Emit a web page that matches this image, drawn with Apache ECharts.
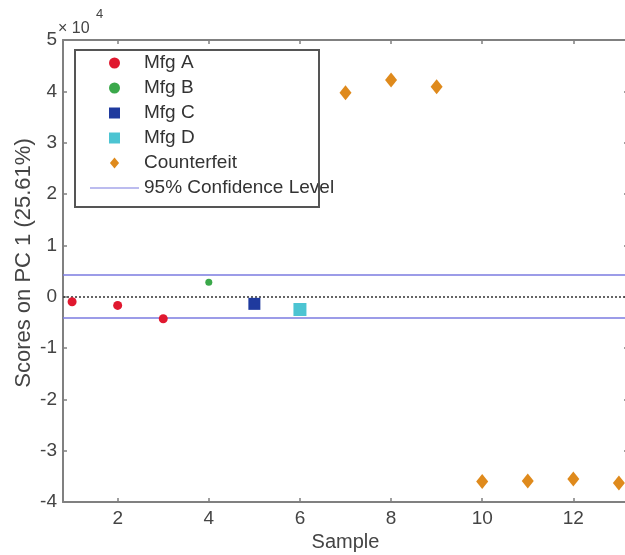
<!DOCTYPE html>
<html>
<head>
<meta charset="utf-8">
<script src="https://cdn.jsdelivr.net/npm/echarts@6/dist/echarts.min.js"></script>
<style>
  html, body { margin: 0; padding: 0; background: #fff; }
  #chart { width: 625px; height: 555px; }
</style>
</head>
<body>
<div id="chart"></div>
<script>
// values in units of 1e4
const mfgA = [[1, -0.10], [2, -0.17], [3, -0.43]]
const mfgB = [[4, 0.28]]
const mfgC = [[5, -0.14]]
const mfgD = [[6, -0.25]]
const counterfeit = [[7, 3.97], [8, 4.22], [9, 4.09], [10, -3.60], [11, -3.59], [12, -3.55], [13, -3.63]]
const confUpper = 0.42
const confLower = -0.41
const xTicks = [2, 4, 6, 8, 10, 12]

const font = 'Liberation Sans, Arial, sans-serif'
const textColor = '#444'
const axisColor = '#808080'
const confColor = '#7b7be0'

const myChart = echarts.init(document.getElementById('chart'))

const axisBase = {
  axisLine: { show: true, onZero: false, lineStyle: { color: axisColor, width: 2 } },
  axisTick: { show: true, inside: true, length: 4, lineStyle: { color: axisColor, width: 1.5 } },
  splitLine: { show: false }
}

// legend icons drawn as paths so they keep their aspect ratio
const squareIcon = 'path://M0,0L10,0L10,10L0,10Z'
const diamondIcon = 'path://M5,0L10,6L5,12L0,6Z'
const lineIcon = 'path://M0,0L60,0L60,1L0,1Z'

myChart.setOption({
  animation: false,
  textStyle: { fontFamily: font },
  grid: { left: 63, right: -3, top: 40, bottom: 53, outerBoundsMode: 'none' },
  legend: {
    orient: 'vertical',
    left: 85,
    top: 48,
    itemWidth: 49,
    itemHeight: 11,
    itemGap: 5,
    textStyle: { fontFamily: font, fontSize: 19, color: '#333', lineHeight: 20 },
    data: [
      { name: 'Mfg A', icon: 'circle' },
      { name: 'Mfg B', icon: 'circle' },
      { name: 'Mfg C', icon: squareIcon },
      { name: 'Mfg D', icon: squareIcon },
      { name: 'Counterfeit', icon: diamondIcon },
      { name: '95% Confidence Level', icon: lineIcon }
    ]
  },
  graphic: [
    {
      type: 'rect', z: 100, silent: true,
      shape: { x: 75, y: 50, width: 244, height: 157 },
      style: { fill: 'none', stroke: '#555', lineWidth: 2 }
    },
    {
      type: 'text', left: 58, top: 21,
      style: { text: '× 10', font: '16px ' + font, fill: textColor }
    },
    {
      type: 'text', left: 96, top: 8,
      style: { text: '4', font: '13px ' + font, fill: textColor }
    }
  ],
  xAxis: [
    Object.assign({}, axisBase, {
      type: 'value', min: 0.8, max: 13.2, position: 'bottom',
      name: 'Sample', nameLocation: 'middle', nameGap: 28,
      nameTextStyle: { fontFamily: font, fontSize: 20, color: textColor },
      axisTick: Object.assign({}, axisBase.axisTick, { customValues: xTicks }),
      axisLabel: { customValues: xTicks, margin: 7, fontSize: 19, color: textColor, fontFamily: font }
    }),
    Object.assign({}, axisBase, {
      type: 'value', min: 0.8, max: 13.2, position: 'top',
      axisTick: Object.assign({}, axisBase.axisTick, { customValues: xTicks }),
      axisLabel: { show: false }
    })
  ],
  yAxis: [
    Object.assign({}, axisBase, {
      type: 'value', min: -4, max: 5, interval: 1, position: 'left',
      name: 'Scores on PC 1 (25.61%)', nameLocation: 'middle', nameGap: 28, nameMoveOverlap: false,
      nameTextStyle: { fontFamily: font, fontSize: 22, color: textColor, padding: [0, 0, 0, 16] },
      axisLabel: { margin: 6, fontSize: 19, color: textColor, fontFamily: font }
    }),
    Object.assign({}, axisBase, {
      type: 'value', min: -4, max: 5, interval: 1, position: 'right',
      axisLabel: { show: false }
    })
  ],
  series: [
    {
      name: '95% Confidence Level', type: 'line', data: [], symbol: 'none',
      lineStyle: { color: confColor, width: 1.5 },
      itemStyle: { color: confColor },
      markLine: {
        silent: true, symbol: 'none', label: { show: false },
        lineStyle: { color: confColor, width: 1.5, type: 'solid' },
        data: [
          { yAxis: confUpper },
          { yAxis: confLower },
          { yAxis: 0, lineStyle: { color: '#333', type: [2, 2], width: 1.5 } }
        ]
      }
    },
    {
      name: 'Mfg A', type: 'scatter', data: mfgA, symbol: 'circle', symbolSize: 9,
      itemStyle: { color: '#e0182f', opacity: 1 }, z: 5
    },
    {
      name: 'Mfg B', type: 'scatter', data: mfgB, symbol: 'circle', symbolSize: 7,
      itemStyle: { color: '#3aa84a', opacity: 1 }, z: 5
    },
    {
      name: 'Mfg C', type: 'scatter', data: mfgC, symbol: 'rect', symbolSize: 12,
      itemStyle: { color: '#1f3a9e', opacity: 1 }, z: 5
    },
    {
      name: 'Mfg D', type: 'scatter', data: mfgD, symbol: 'rect', symbolSize: 13,
      itemStyle: { color: '#4cc4d2', opacity: 1 }, z: 5
    },
    {
      name: 'Counterfeit', type: 'scatter', data: counterfeit, symbol: 'diamond', symbolSize: [12, 15],
      itemStyle: { color: '#df8a1c', opacity: 1 }, z: 5
    }
  ]
})
</script>
</body>
</html>
